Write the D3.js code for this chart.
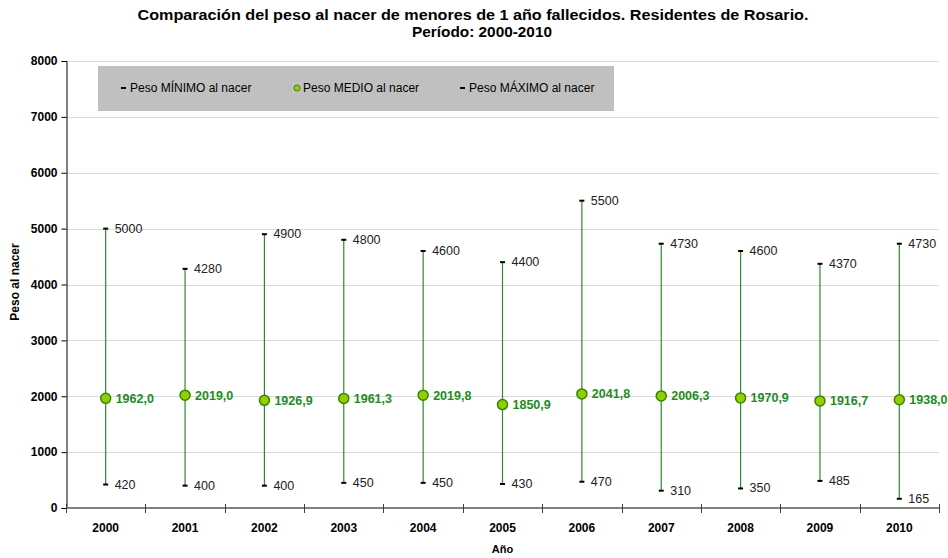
<!DOCTYPE html>
<html>
<head>
<meta charset="utf-8">
<script src="https://cdn.jsdelivr.net/npm/d3@7"></script>
<style>
  body { margin: 0; background: #fff; }
  svg text { font-family: "Liberation Sans", Arial, sans-serif; }
</style>
</head>
<body>
<svg width="948" height="558"></svg>
<script>
// data
var years = ["2000", "2001", "2002", "2003", "2004", "2005", "2006", "2007", "2008", "2009", "2010"];
var pesoMin = [420, 400, 400, 450, 450, 430, 470, 310, 350, 485, 165];
var pesoMax = [5000, 4280, 4900, 4800, 4600, 4400, 5500, 4730, 4600, 4370, 4730];
var pesoMedio = [1962.0, 2019.0, 1926.9, 1961.3, 2019.8, 1850.9, 2041.8, 2006.3, 1970.9, 1916.7, 1938.0];
var yTicks = [0, 1000, 2000, 3000, 4000, 5000, 6000, 7000, 8000];
var legendLabels = ["Peso MÍNIMO al nacer", "Peso MEDIO al nacer", "Peso MÁXIMO al nacer"];

var svg = d3.select("svg");
var margin = {left: 66, right: 9, top: 61, bottom: 50};
var width = 948 - margin.left - margin.right;
var height = 558 - margin.top - margin.bottom;

var lineColor = "#2a8c2a";
var labelGreen = "#1e8c1e";

var x = d3.scaleBand().domain(years).range([0, width]);
var y = d3.scaleLinear().domain([0, 8000]).range([height, 0]);

var fmt = function (v) {
    return d3.format(".1f")(v).replace(".", ",");
};

// title
var title = svg.append("text")
    .attr("text-anchor", "middle")
    .style("font-weight", "bold")
    .style("font-size", "14px");
title.append("tspan").attr("x", 473).attr("y", 20)
    .attr("textLength", 671).attr("lengthAdjust", "spacingAndGlyphs")
    .text("Comparación del peso al nacer de menores de 1 año fallecidos. Residentes de Rosario.");
title.append("tspan").attr("x", 482).attr("y", 37)
    .attr("textLength", 140).attr("lengthAdjust", "spacingAndGlyphs")
    .text("Período: 2000-2010");

var g = svg.append("g").attr("transform", "translate(" + margin.left + "," + margin.top + ")");

// grid
g.append("g").selectAll("line").data(yTicks.slice(1)).enter().append("line")
    .attr("x1", 0).attr("x2", width)
    .attr("y1", function (d) { return Math.round(y(d)) + 0.5; })
    .attr("y2", function (d) { return Math.round(y(d)) + 0.5; })
    .attr("stroke", "#dadada");

// y axis
var yAxis = g.append("g")
    .attr("transform", "translate(0.5,0)")
    .call(d3.axisLeft(y).tickValues(yTicks).tickSize(5).tickPadding(4).tickFormat(d3.format("d")));
yAxis.select(".domain").attr("stroke", "#000");
yAxis.selectAll(".tick line").attr("stroke", "#000");
yAxis.selectAll("text").style("font-size", "12px").style("font-weight", "bold")
    .style("font-family", "Liberation Sans, Arial, sans-serif").attr("fill", "#000");

// x axis
var xAxis = g.append("g").attr("transform", "translate(0," + height + ")");
xAxis.append("line").attr("x1", 0).attr("x2", width).attr("y1", 0).attr("y2", 0)
    .attr("stroke", "#808080").attr("stroke-width", 2);
var bounds = years.map(function (d) { return x(d); }).concat([width]);
xAxis.selectAll("line.tk").data(bounds).enter().append("line")
    .attr("class", "tk")
    .attr("x1", function (d) { return Math.round(d) + 0.5; })
    .attr("x2", function (d) { return Math.round(d) + 0.5; })
    .attr("y1", -4).attr("y2", 5)
    .attr("stroke", "#404040");
xAxis.selectAll("text").data(years).enter().append("text")
    .attr("x", function (d) { return x(d) + x.bandwidth() / 2; })
    .attr("y", 24)
    .attr("text-anchor", "middle")
    .style("font-size", "12px").style("font-weight", "bold")
    .text(function (d) { return d; });

// axis titles
svg.append("text")
    .attr("x", margin.left + width / 2).attr("y", 553)
    .attr("text-anchor", "middle")
    .style("font-size", "11px").style("font-weight", "bold")
    .text("Año");
svg.append("text")
    .attr("transform", "translate(19," + 282 + ") rotate(-90)")
    .attr("text-anchor", "middle")
    .style("font-size", "12px").style("font-weight", "bold")
    .text("Peso al nacer");

// legend
var leg = svg.append("g").attr("transform", "translate(98,66)");
leg.append("rect").attr("width", 516).attr("height", 45).attr("fill", "#c0c0c0");
var legX = [23, 196, 362];
legendLabels.forEach(function (lbl, i) {
    var item = leg.append("g").attr("transform", "translate(" + legX[i] + ",22)");
    if (i === 1) {
        item.append("circle").attr("cx", 3).attr("cy", 0).attr("r", 3)
            .attr("fill", "#99cc00").attr("stroke", "#2a8a00").attr("stroke-width", 1);
    } else {
        item.append("rect").attr("x", 0).attr("y", -1).attr("width", 5).attr("height", 2).attr("fill", "#000");
    }
    item.append("text").attr("x", 9).attr("y", 4)
        .style("font-size", "12px").text(lbl);
});

// range lines
var cx = function (i) { return x(years[i]) + x.bandwidth() / 2; };
var idx = d3.range(years.length);

g.append("g").selectAll("line").data(idx).enter().append("line")
    .attr("x1", cx).attr("x2", cx)
    .attr("y1", function (i) { return y(pesoMin[i]); })
    .attr("y2", function (i) { return y(pesoMax[i]); })
    .attr("stroke", lineColor).attr("stroke-width", 1.2);

// min / max markers
[pesoMin, pesoMax].forEach(function (arr) {
    g.append("g").selectAll("rect").data(idx).enter().append("rect")
        .attr("x", function (i) { return cx(i) - 2.5; })
        .attr("y", function (i) { return y(arr[i]) - 1; })
        .attr("width", 5).attr("height", 2)
        .attr("fill", "#000");
    g.append("g").selectAll("text").data(idx).enter().append("text")
        .attr("x", function (i) { return cx(i) + 9; })
        .attr("y", function (i) { return y(arr[i]) + 4; })
        .style("font-size", "12.5px").attr("fill", "#222")
        .text(function (i) { return arr[i]; });
});

// mean points
g.append("g").selectAll("circle").data(idx).enter().append("circle")
    .attr("cx", cx)
    .attr("cy", function (i) { return y(pesoMedio[i]); })
    .attr("r", 5)
    .attr("fill", "#99cc00").attr("stroke", "#2a8a00").attr("stroke-width", 1.5);
g.append("g").selectAll("text").data(idx).enter().append("text")
    .attr("x", function (i) { return cx(i) + 10; })
    .attr("y", function (i) { return y(pesoMedio[i]) + 4.5; })
    .style("font-size", "12.5px").style("font-weight", "bold").attr("fill", labelGreen)
    .text(function (i) { return fmt(pesoMedio[i]); });
</script>
</body>
</html>
